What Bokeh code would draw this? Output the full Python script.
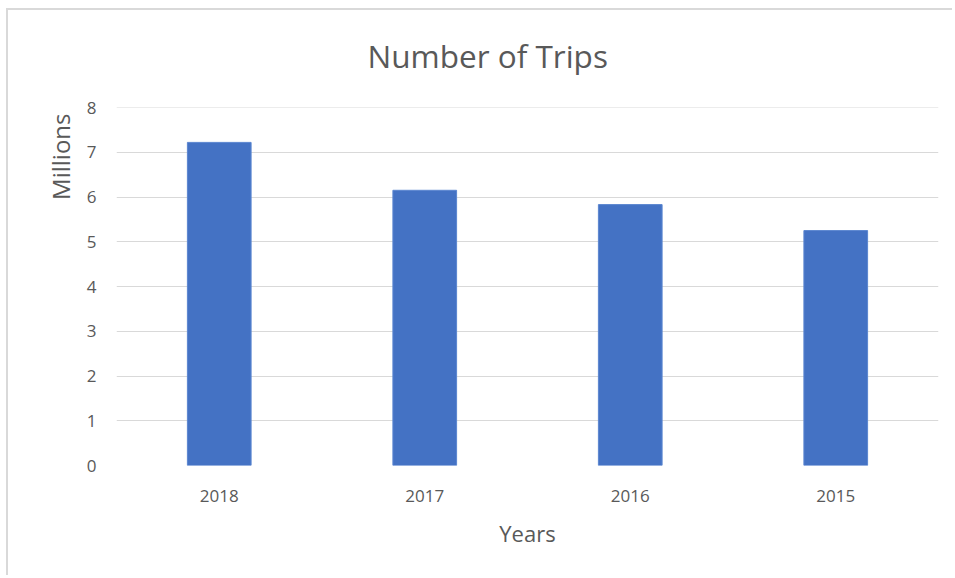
from bokeh.plotting import figure
from bokeh.embed import file_html
from bokeh.resources import INLINE
from bokeh.models import ColumnDataSource, FixedTicker, Title, Span

years = ["2018", "2017", "2016", "2015"]
trips = [7.22, 6.15, 5.83, 5.25]
y_ticks = [0, 1, 2, 3, 4, 5, 6, 7, 8]

TEXT = "#595959"
FONT = "Open Sans"
GRID = "#d9d9d9"

src = ColumnDataSource(dict(years=years, trips=trips))

p = figure(x_range=years, y_range=(0, 8), width=952, height=575,
           output_backend="svg", toolbar_location=None,
           min_border_left=116, min_border_top=107, min_border_bottom=110,
           min_border_right=14)
p.border_fill_color = None
p.background_fill_color = "white"
p.styles = {
    "background": ("linear-gradient(#d9d9d9, #d9d9d9) 6px 8px / 100% 2px no-repeat, "
                   "linear-gradient(#d9d9d9, #d9d9d9) 6px 8px / 2px 100% no-repeat, "
                   "white"),
}

p.vbar(x="years", top="trips", width=0.31, source=src,
       fill_color="#4472C4", line_color="#5b86d0", line_width=1)

t = Title(text="Number of Trips", align="left", offset=251, vertical_align="top",
          text_font=FONT, text_font_size="31.5px", text_font_style="normal",
          text_color=TEXT, standoff=58)
p.add_layout(t, "above")

ytitle = Title(text="Millions", align="right", offset=6,
               text_font=FONT, text_font_size="24px", text_font_style="normal",
               text_color=TEXT, standoff=14)
p.add_layout(ytitle, "left")

p.outline_line_color = None
p.xgrid.grid_line_color = None
p.ygrid.grid_line_color = GRID
p.ygrid.grid_line_width = 1
p.yaxis.ticker = FixedTicker(ticks=y_ticks)
p.add_layout(Span(location=y_ticks[-1], dimension="width", line_color=GRID, line_width=1))

for ax in (p.xaxis, p.yaxis):
    ax.axis_line_color = None
    ax.major_tick_line_color = None
    ax.minor_tick_line_color = None
    ax.major_tick_in = 0
    ax.major_tick_out = 0
    ax.major_label_text_font = FONT
    ax.major_label_text_font_size = "17px"
    ax.major_label_text_color = TEXT
    ax.axis_label_text_font = FONT
    ax.axis_label_text_font_size = "22px"
    ax.axis_label_text_font_style = "normal"
    ax.axis_label_text_color = TEXT

p.xaxis.axis_label = "Years"
p.xaxis.major_label_standoff = 24
p.xaxis.axis_label_standoff = 13
p.yaxis.major_label_standoff = 20
p.x_range.range_padding = 0.0

open("out.html", "w").write(file_html(p, INLINE))
